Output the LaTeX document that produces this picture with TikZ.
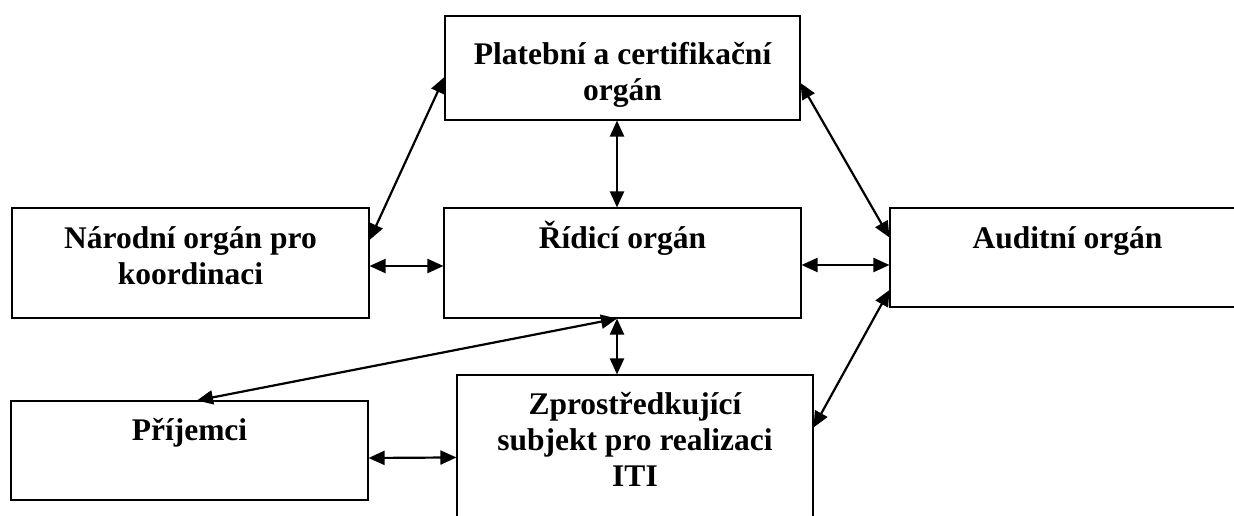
\documentclass[tikz,border=0pt]{standalone}
\usepackage{fontspec}
\setmainfont{Liberation Serif}
\usetikzlibrary{arrows.meta}
\begin{document}
\begin{tikzpicture}[x=1pt,y=-1pt,
  box/.style={draw,line width=1.1pt,rectangle,inner sep=0pt},
  lbl/.style={anchor=north,inner sep=0pt,align=center,font=\fontsize{31.5}{36}\selectfont\bfseries},
  link/.style={{Triangle[length=16pt,width=14pt]}-{Triangle[length=16pt,width=14pt]},line width=2.2pt}]
\useasboundingbox (0,0) rectangle (1234,516);
\clip (0,0) rectangle (1234,516);
% boxes
\node[box,minimum width=355pt,minimum height=104pt] (P) at (622.5,68) {};
\node[box,minimum width=357pt,minimum height=110pt] (N) at (190.5,263) {};
\node[box,minimum width=357pt,minimum height=110pt] (R) at (622.5,263) {};
\node[box,minimum width=355pt,minimum height=99pt] (A) at (1067.5,257.5) {};
\node[box,minimum width=357pt,minimum height=99pt] (B) at (189.5,450.5) {};
\node[box,minimum width=356pt,minimum height=155pt] (Z) at (635,452.5) {};
% texts
\node[lbl] (Pt) at ([yshift=-19pt]P.north) {\rule{0pt}{30pt}Platební a certifikační\\orgán};
\node[lbl] (Nt) at ([yshift=-11pt]N.north) {\rule{0pt}{30pt}Národní orgán pro\\koordinaci};
\node[lbl] (Rt) at ([yshift=-11pt]R.north) {\rule{0pt}{30pt}Řídicí orgán};
\node[lbl] (At) at ([yshift=-11pt]A.north) {\rule{0pt}{30pt}Auditní orgán};
\node[lbl] (Bt) at ([yshift=-10pt]B.north) {\rule{0pt}{30pt}Příjemci};
\node[lbl] (Zt) at ([yshift=-10pt]Z.north) {\rule{0pt}{30pt}Zprostředkující\\subjekt pro realizaci\\ITI};
% connectors
\draw[link] ([yshift=23pt]N.east) -- ([yshift=-9pt]P.west);
\draw[link] ([xshift=-5.5pt]P.south) -- ([xshift=-5.5pt]R.north);
\draw[link] ([yshift=-15pt]P.east) -- ([yshift=20pt]A.west);
\draw[link] ([yshift=-3pt]N.east) -- ([yshift=-3pt]R.west);
\draw[link] ([yshift=-2pt]R.east) -- ([yshift=-7.5pt]A.west);
\draw[link] ([yshift=-32.5pt]A.west) -- ([yshift=-53pt]Z.north east);
\draw[link] ([xshift=-5.5pt]R.south) -- ([xshift=7.5pt]B.north);
\draw[link] ([xshift=-5.5pt]R.south) -- ([xshift=-18pt]Z.north);
\draw[link] ([yshift=-7.5pt]B.east) -- ([yshift=-83pt]Z.north west);
\end{tikzpicture}
\end{document}
